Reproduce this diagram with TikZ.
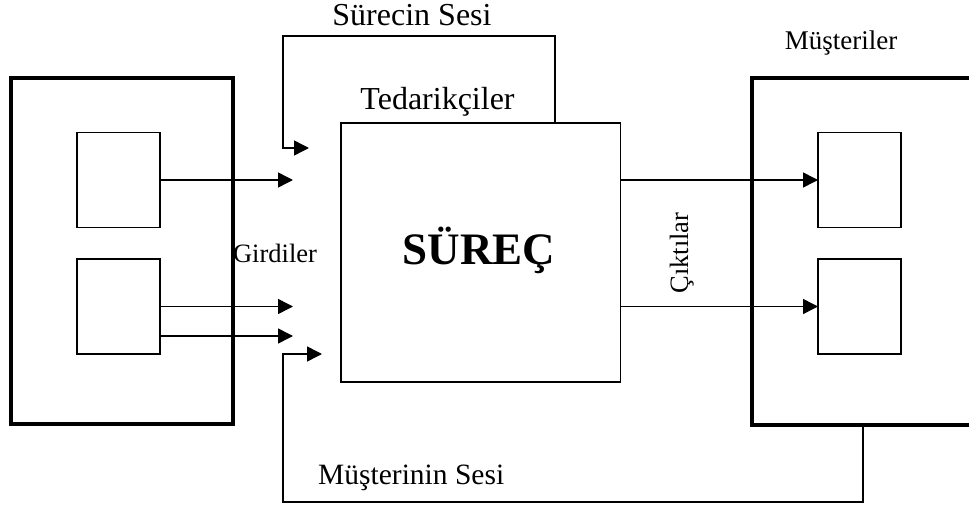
\documentclass[tikz,border=0pt]{standalone}
\usepackage{fontspec}
\setmainfont{Liberation Serif}
\usetikzlibrary{arrows.meta}

\tikzset{
  thinline/.style={line width=1.5pt, draw=black},
  bigbox/.style={draw=black, line width=4pt, inner sep=0pt, outer sep=0pt},
  smallbox/.style={draw=black, line width=1.6pt, inner sep=0pt, outer sep=0pt,
                   minimum width=83pt, minimum height=95pt},
  procbox/.style={draw=black, line width=1.5pt, inner sep=0pt, outer sep=0pt},
  arr/.style={thinline, -{Triangle[length=15pt, width=15pt]}},
  lbl/.style={inner sep=0pt, anchor=base, text=black},
}
\newcommand{\fs}[1]{\fontsize{#1}{#1}\selectfont}

\begin{document}
\begin{tikzpicture}[x=1pt, y=-1pt]
  \useasboundingbox (0,0) rectangle (969,508);

  % supplier block and its two sources
  \node[bigbox, minimum width=222pt, minimum height=346pt] (sup) at (121.5,251) {};
  \node[smallbox] (s1) at (118.5,180) {};
  \node[smallbox] (s2) at (118.5,306.5) {};

  % the process
  \node[procbox, minimum width=279.5pt, minimum height=259pt] (proc) at (480.75,252.5) {};
  \node[lbl, font=\bfseries\fs{45}] (surec) at (479,264) {SÜREÇ};

  % customer block and its two receivers
  \node[bigbox, minimum width=238pt, minimum height=347pt] (cus) at (871,251.2) {};
  \node[smallbox] (c1) at (859.5,180) {};
  \node[smallbox] (c2) at (859.5,306.5) {};

  % end points of the inputs and of the two feedback loops
  \coordinate (in1) at (293,180);
  \coordinate (in3) at (293,336);
  \coordinate (vpx) at (555,36);
  \coordinate (vp)  at (283,36);
  \coordinate (vpin) at (309,148);
  \coordinate (vcx) at (863,502);
  \coordinate (vc)  at (283,502);
  \coordinate (vcin) at (322,354);

  % inputs
  \draw[arr] (s1.east) -- (in1);
  \draw[arr] (s2.east) -- (s2.east -| in1);
  \draw[arr] (s2.east |- in3) -- (in3);

  % outputs
  \draw[arr] (proc.east |- c1.west) -- (c1.west);
  \draw[arr] (proc.east |- c2.west) -- (c2.west);

  % voice of the process
  \draw[arr] (vpx |- proc.north) -- (vpx) -- (vp) |- (vpin);
  % voice of the customer
  \draw[arr] (vcx |- cus.south) -- (vcx) -- (vc) |- (vcin);

  % labels
  \node[lbl, font=\fs{32}] (lvp) at (412,26) {Sürecin Sesi};
  \node[lbl, font=\fs{32}] (lsup) at (437.5,110) {Tedarikçiler};
  \node[lbl, font=\fs{27}] (lcus) at (841,50) {Müşteriler};
  \node[lbl, font=\fs{26.5}] (lin) at (275,262) {Girdiler};
  \node[lbl, font=\fs{26.5}, rotate=90] (lout) at (688,253) {Çıktılar};
  \node[lbl, anchor=base west, font=\fs{29.5}] (lvc) at (318,484) {Müşterinin Sesi};
\end{tikzpicture}
\end{document}
